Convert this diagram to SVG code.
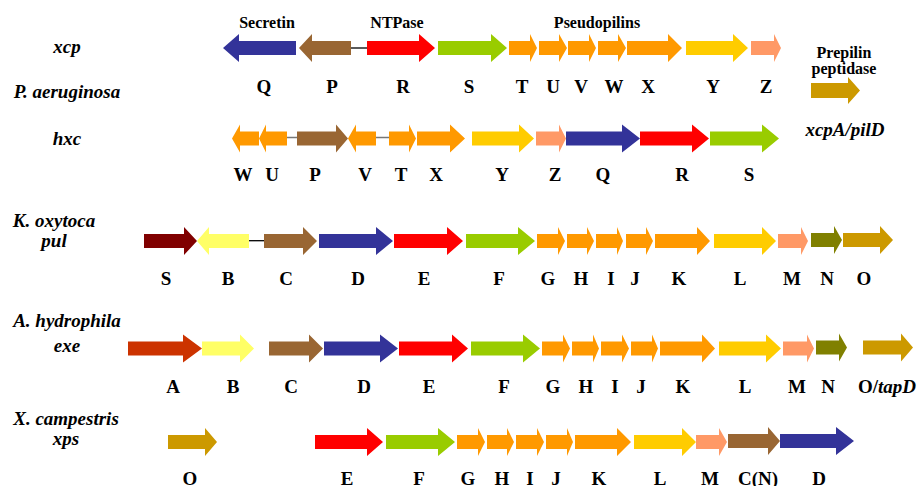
<svg xmlns="http://www.w3.org/2000/svg" width="918" height="486" viewBox="0 0 918 486">
<style>
text{font-family:"Liberation Serif","Times New Roman",serif;font-weight:bold;fill:#000}
.g{font-size:19px;text-anchor:middle}
.sp{font-size:19px;font-style:italic;text-anchor:middle}
.t{font-size:16px;text-anchor:middle}
.it{font-style:italic}
.ln{stroke:#000;stroke-width:1.3}
.ln2{stroke:#777;stroke-width:1.5}
.bl{fill:#333399}.br{fill:#996633}.rd{fill:#FF0000}.gr{fill:#99CC00}.or{fill:#FF9900}
.ye{fill:#FFCC00}.sa{fill:#FF9966}.go{fill:#CC9900}.dr{fill:#800000}.ly{fill:#FFFF66}
.ol{fill:#808000}.ru{fill:#CC3300}
</style>
<rect width="918" height="486" fill="#fff"/>

<g id="labels-species">
<text class="sp" x="67" y="53">xcp</text>
<text class="sp" x="67" y="98">P. aeruginosa</text>
<text class="sp" x="67" y="145">hxc</text>
<text class="sp" x="54" y="227">K. oxytoca</text>
<text class="sp" x="54" y="247">pul</text>
<text class="sp" x="67" y="327">A. hydrophila</text>
<text class="sp" x="67" y="352">exe</text>
<text class="sp" x="66" y="425">X. campestris</text>
<text class="sp" x="66" y="445">xps</text>
<text class="t" x="267" y="28">Secretin</text>
<text class="t" x="397" y="28">NTPase</text>
<text class="t" x="597" y="28">Pseudopilins</text>
<text class="t" x="844" y="58">Prepilin</text>
<text class="t" x="844" y="74">peptidase</text>
<text class="sp" x="845" y="136">xcpA/pilD</text>
</g>

<g id="connectors">
<line class="ln" x1="351" y1="48" x2="367" y2="48"/>
<line class="ln2" x1="287" y1="137.5" x2="297" y2="137.5"/>
<line class="ln2" x1="376" y1="137.5" x2="389" y2="137.5"/>
<line class="ln" x1="249" y1="240.7" x2="264" y2="240.7"/>
</g>

<g id="row-xcp">
<g id="xcp-Q"><polygon class="bl" points="223,48 239,34 239,41 296,41 296,55 239,55 239,62"/><text class="g" x="264" y="93">Q</text></g>
<g id="xcp-P"><polygon class="br" points="299,48 312,34 312,41 351,41 351,55 312,55 312,62"/><text class="g" x="332" y="93">P</text></g>
<g id="xcp-R"><polygon class="rd" points="367,41 419,41 419,34 435,48 419,62 419,55 367,55"/><text class="g" x="403" y="93">R</text></g>
<g id="xcp-S"><polygon class="gr" points="438,41 491,41 491,34 507,48 491,62 491,55 438,55"/><text class="g" x="469" y="93">S</text></g>
<g id="xcp-T"><polygon class="or" points="509,41 530,41 530,34 537,48 530,62 530,55 509,55"/><text class="g" x="522" y="93">T</text></g>
<g id="xcp-U"><polygon class="or" points="539,41 559,41 559,34 567,48 559,62 559,55 539,55"/><text class="g" x="553" y="93">U</text></g>
<g id="xcp-V"><polygon class="or" points="568,41 589,41 589,34 596,48 589,62 589,55 568,55"/><text class="g" x="581" y="93">V</text></g>
<g id="xcp-W"><polygon class="or" points="598,41 618,41 618,34 626,48 618,62 618,55 598,55"/><text class="g" x="614" y="93">W</text></g>
<g id="xcp-X"><polygon class="or" points="627,41 668,41 668,34 682,48 668,62 668,55 627,55"/><text class="g" x="648" y="93">X</text></g>
<g id="xcp-Y"><polygon class="ye" points="686,41 733,41 733,34 748,48 733,62 733,55 686,55"/><text class="g" x="713" y="93">Y</text></g>
<g id="xcp-Z"><polygon class="sa" points="751,41 774,41 774,34 781,48 774,62 774,55 751,55"/><text class="g" x="766" y="93">Z</text></g>
<g id="xcpA"><polygon class="go" points="811,83 848,83 848,77 860,90.5 848,104 848,98 811,98"/></g>
</g>

<g id="row-hxc">
<g id="hxc-W"><polygon class="or" points="232,138.5 240,124.5 240,131.5 259,131.5 259,145.5 240,145.5 240,152.5"/><text class="g" x="243" y="181">W</text></g>
<g id="hxc-U"><polygon class="or" points="259,138.5 266,124.5 266,131.5 287,131.5 287,145.5 266,145.5 266,152.5"/><text class="g" x="272" y="181">U</text></g>
<g id="hxc-P"><polygon class="br" points="297,131.5 336,131.5 336,124.5 348,138.5 336,152.5 336,145.5 297,145.5"/><text class="g" x="315" y="181">P</text></g>
<g id="hxc-V"><polygon class="or" points="348,138.5 356,124.5 356,131.5 376,131.5 376,145.5 356,145.5 356,152.5"/><text class="g" x="365" y="181">V</text></g>
<g id="hxc-T"><polygon class="or" points="389,131.5 409,131.5 409,124.5 416,138.5 409,152.5 409,145.5 389,145.5"/><text class="g" x="401" y="181">T</text></g>
<g id="hxc-X"><polygon class="or" points="417,131.5 450,131.5 450,124.5 465,138.5 450,152.5 450,145.5 417,145.5"/><text class="g" x="436" y="181">X</text></g>
<g id="hxc-Y"><polygon class="ye" points="472,131.5 519,131.5 519,124.5 534,138.5 519,152.5 519,145.5 472,145.5"/><text class="g" x="502" y="181">Y</text></g>
<g id="hxc-Z"><polygon class="sa" points="536,131.5 559,131.5 559,124.5 566,138.5 559,152.5 559,145.5 536,145.5"/><text class="g" x="555" y="181">Z</text></g>
<g id="hxc-Q"><polygon class="bl" points="566,131.5 622,131.5 622,124.5 640,138.5 622,152.5 622,145.5 566,145.5"/><text class="g" x="603" y="181">Q</text></g>
<g id="hxc-R"><polygon class="rd" points="640,131.5 692,131.5 692,124.5 709,138.5 692,152.5 692,145.5 640,145.5"/><text class="g" x="682" y="181">R</text></g>
<g id="hxc-S"><polygon class="gr" points="710,131.5 762,131.5 762,124.5 779,138.5 762,152.5 762,145.5 710,145.5"/><text class="g" x="749" y="181">S</text></g>
</g>

<g id="row-pul">
<g id="pul-S"><polygon class="dr" points="144,234 184,234 184,227 197,241 184,255 184,248 144,248"/><text class="g" x="166" y="285">S</text></g>
<g id="pul-B"><polygon class="ly" points="197,241 209,227 209,234 249,234 249,248 209,248 209,255"/><text class="g" x="228" y="285">B</text></g>
<g id="pul-C"><polygon class="br" points="264,234 303,234 303,227 317,241 303,255 303,248 264,248"/><text class="g" x="286" y="285">C</text></g>
<g id="pul-D"><polygon class="bl" points="319,234 376,234 376,227 393,241 376,255 376,248 319,248"/><text class="g" x="358" y="285">D</text></g>
<g id="pul-E"><polygon class="rd" points="394,234 447,234 447,227 463,241 447,255 447,248 394,248"/><text class="g" x="424" y="285">E</text></g>
<g id="pul-F"><polygon class="gr" points="466,234 518,234 518,227 535,241 518,255 518,248 466,248"/><text class="g" x="499" y="285">F</text></g>
<g id="pul-G"><polygon class="or" points="537,234 558,234 558,227 565,241 558,255 558,248 537,248"/><text class="g" x="548" y="285">G</text></g>
<g id="pul-H"><polygon class="or" points="567,234 587,234 587,227 594,241 587,255 587,248 567,248"/><text class="g" x="581" y="285">H</text></g>
<g id="pul-I"><polygon class="or" points="596,234 617,234 617,227 623,241 617,255 617,248 596,248"/><text class="g" x="611" y="285">I</text></g>
<g id="pul-J"><polygon class="or" points="626,234 646,234 646,227 653,241 646,255 646,248 626,248"/><text class="g" x="635" y="285">J</text></g>
<g id="pul-K"><polygon class="or" points="655,234 697,234 697,227 710,241 697,255 697,248 655,248"/><text class="g" x="679" y="285">K</text></g>
<g id="pul-L"><polygon class="ye" points="714,234 762,234 762,227 776,241 762,255 762,248 714,248"/><text class="g" x="740" y="285">L</text></g>
<g id="pul-M"><polygon class="sa" points="778,234 801,234 801,227 808,241 801,255 801,248 778,248"/><text class="g" x="792" y="285">M</text></g>
<g id="pul-N"><polygon class="ol" points="811,233 834,233 834,226 842,240 834,254 834,247 811,247"/><text class="g" x="827" y="285">N</text></g>
<g id="pul-O"><polygon class="go" points="843,233 880,233 880,226 893,240 880,254 880,247 843,247"/><text class="g" x="864" y="285">O</text></g>
</g>

<g id="row-exe">
<g id="exe-A"><polygon class="ru" points="128,341.5 183,341.5 183,334.5 202,348.5 183,362.5 183,355.5 128,355.5"/><text class="g" x="173" y="393">A</text></g>
<g id="exe-B"><polygon class="ly" points="202,341.5 240,341.5 240,334.5 254,348.5 240,362.5 240,355.5 202,355.5"/><text class="g" x="233" y="393">B</text></g>
<g id="exe-C"><polygon class="br" points="269,341.5 309,341.5 309,334.5 323,348.5 309,362.5 309,355.5 269,355.5"/><text class="g" x="291" y="393">C</text></g>
<g id="exe-D"><polygon class="bl" points="324,341.5 380,341.5 380,334.5 398,348.5 380,362.5 380,355.5 324,355.5"/><text class="g" x="364" y="393">D</text></g>
<g id="exe-E"><polygon class="rd" points="399,341.5 452,341.5 452,334.5 468,348.5 452,362.5 452,355.5 399,355.5"/><text class="g" x="429" y="393">E</text></g>
<g id="exe-F"><polygon class="gr" points="471,341.5 523,341.5 523,334.5 540,348.5 523,362.5 523,355.5 471,355.5"/><text class="g" x="504" y="393">F</text></g>
<g id="exe-G"><polygon class="or" points="542,341.5 563,341.5 563,334.5 570,348.5 563,362.5 563,355.5 542,355.5"/><text class="g" x="553" y="393">G</text></g>
<g id="exe-H"><polygon class="or" points="572,341.5 593,341.5 593,334.5 599,348.5 593,362.5 593,355.5 572,355.5"/><text class="g" x="586" y="393">H</text></g>
<g id="exe-I"><polygon class="or" points="601,341.5 622,341.5 622,334.5 629,348.5 622,362.5 622,355.5 601,355.5"/><text class="g" x="615" y="393">I</text></g>
<g id="exe-J"><polygon class="or" points="631,341.5 652,341.5 652,334.5 658,348.5 652,362.5 652,355.5 631,355.5"/><text class="g" x="641" y="393">J</text></g>
<g id="exe-K"><polygon class="or" points="660,341.5 702,341.5 702,334.5 715,348.5 702,362.5 702,355.5 660,355.5"/><text class="g" x="683" y="393">K</text></g>
<g id="exe-L"><polygon class="ye" points="719,341.5 766,341.5 766,334.5 781,348.5 766,362.5 766,355.5 719,355.5"/><text class="g" x="745" y="393">L</text></g>
<g id="exe-M"><polygon class="sa" points="783,341.5 807,341.5 807,334.5 814,348.5 807,362.5 807,355.5 783,355.5"/><text class="g" x="797" y="393">M</text></g>
<g id="exe-N"><polygon class="ol" points="816,340.5 839,340.5 839,333.5 847,347.5 839,361.5 839,354.5 816,354.5"/><text class="g" x="828" y="393">N</text></g>
<g id="exe-O"><polygon class="go" points="863,340.5 901,340.5 901,333.5 913,347.5 901,361.5 901,354.5 863,354.5"/><text x="858" y="393" font-size="19">O/<tspan class="it">tapD</tspan></text></g>
</g>

<g id="row-xps">
<g id="xps-O"><polygon class="go" points="168,435 205,435 205,428 217,442 205,456 205,449 168,449"/><text class="g" x="190" y="485">O</text></g>
<g id="xps-E"><polygon class="rd" points="315,435 367,435 367,428 383,442 367,456 367,449 315,449"/><text class="g" x="347" y="485">E</text></g>
<g id="xps-F"><polygon class="gr" points="386,435 438,435 438,428 455,442 438,456 438,449 386,449"/><text class="g" x="419" y="485">F</text></g>
<g id="xps-G"><polygon class="or" points="457,435 478,435 478,428 485,442 478,456 478,449 457,449"/><text class="g" x="468" y="485">G</text></g>
<g id="xps-H"><polygon class="or" points="487,435 507,435 507,428 514,442 507,456 507,449 487,449"/><text class="g" x="502" y="485">H</text></g>
<g id="xps-I"><polygon class="or" points="516,435 537,435 537,428 544,442 537,456 537,449 516,449"/><text class="g" x="530" y="485">I</text></g>
<g id="xps-J"><polygon class="or" points="546,435 567,435 567,428 573,442 567,456 567,449 546,449"/><text class="g" x="556" y="485">J</text></g>
<g id="xps-K"><polygon class="or" points="575,435 617,435 617,428 631,442 617,456 617,449 575,449"/><text class="g" x="599" y="485">K</text></g>
<g id="xps-L"><polygon class="ye" points="634,435 682,435 682,428 696,442 682,456 682,449 634,449"/><text class="g" x="660" y="485">L</text></g>
<g id="xps-M"><polygon class="sa" points="696,435 719,435 719,428 727,442 719,456 719,449 696,449"/><text class="g" x="710" y="485">M</text></g>
<g id="xps-CN"><polygon class="br" points="728,434 768,434 768,427 780,441 768,455 768,448 728,448"/><text class="g" x="758" y="485">C(N)</text></g>
<g id="xps-D"><polygon class="bl" points="780,434 836,434 836,427 854,441 836,455 836,448 780,448"/><text class="g" x="819" y="485">D</text></g>
</g>
</svg>
